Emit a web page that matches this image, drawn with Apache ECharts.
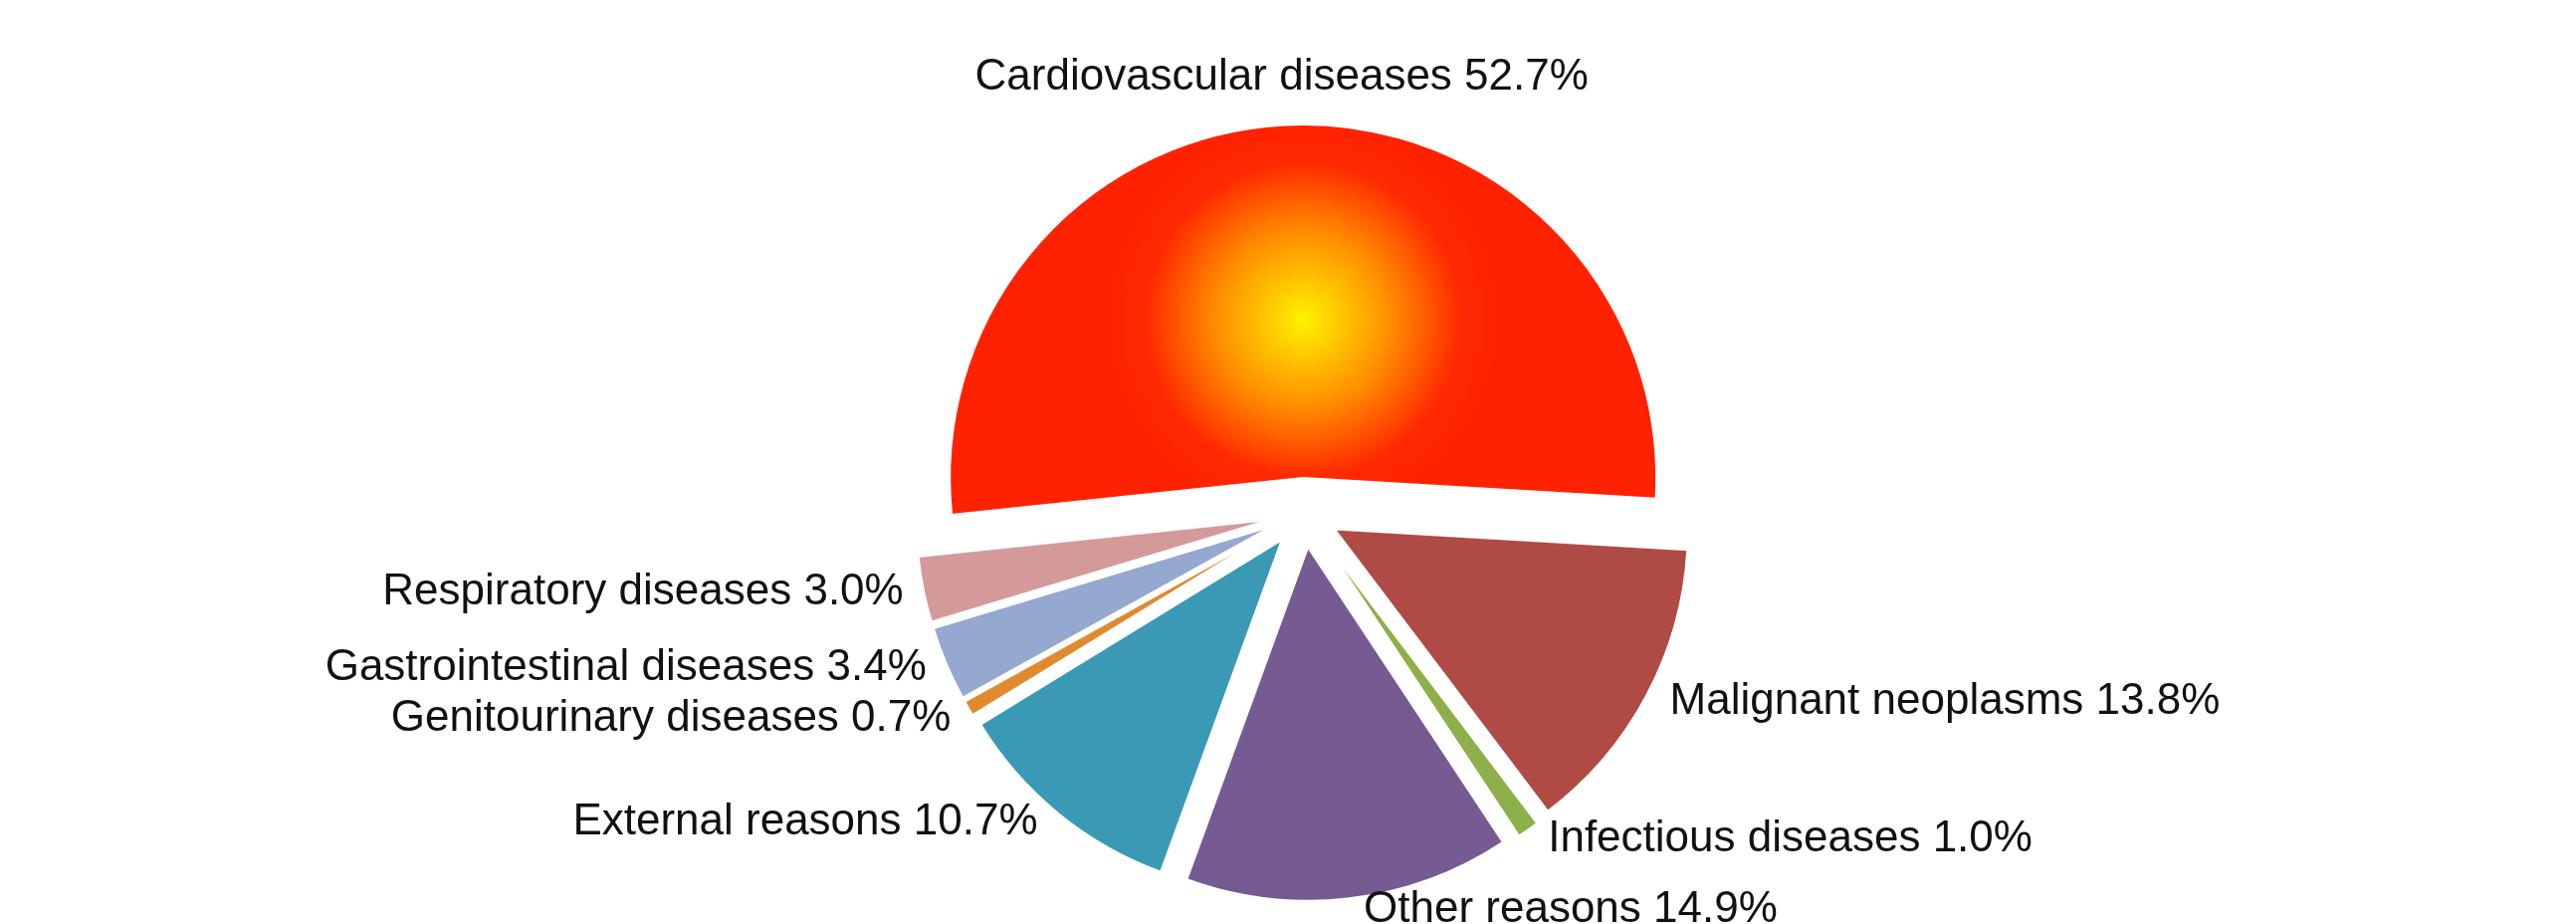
<!DOCTYPE html>
<html><head><meta charset="utf-8">
<script src="https://cdn.jsdelivr.net/npm/echarts@6/dist/echarts.min.js"></script>
<style>html,body{margin:0;background:#fff}#c{width:2588px;height:928px}</style>
</head><body><div id="c"></div>
<script>
const categories = ["Cardiovascular diseases","Malignant neoplasms","Infectious diseases","Other reasons","External reasons","Genitourinary diseases","Gastrointestinal diseases","Respiratory diseases"];
const values = [52.7,13.8,1.0,14.9,10.7,0.7,3.4,3.0];
const colors = [
  {type:'radial',x:0.5,y:0.5,r:0.5,colorStops:[{offset:0,color:'#fff200'},{offset:0.45,color:'#ff8c00'},{offset:0.8,color:'#ff2a00'},{offset:1,color:'#ff2200'}]},
  '#b04a45','#8db04a','#765a92','#3a9ab5','#e08a30','#94a8d0','#d49a9a'];
const chart = echarts.init(document.getElementById('c'));
chart.setOption({
  animation:false,
  series:[{
    type:'pie',
    center:[1310,515],
    radius:[0,355],
    startAngle:186,
    selectedMode:'multiple',
    selectedOffset:35,
    label:{show:true,position:'outside',formatter:p=>p.name+' '+p.value.toFixed(1)+'%',fontSize:44,color:'#111',fontFamily:'Liberation Sans, Arial'},
    labelLine:{show:false,length:12,length2:8},
    labelLayout:function(p){
      if(p.dataIndex===0){ return {x: 1310, dy: -35, align:'center'}; }
      return {};
    },
    itemStyle:{borderColor:'#fff',borderWidth:2},
    data:categories.map((n,i)=>({name:n,value:values[i],selected:true,itemStyle:{color:colors[i]}}))
  }]
});
</script></body></html>
